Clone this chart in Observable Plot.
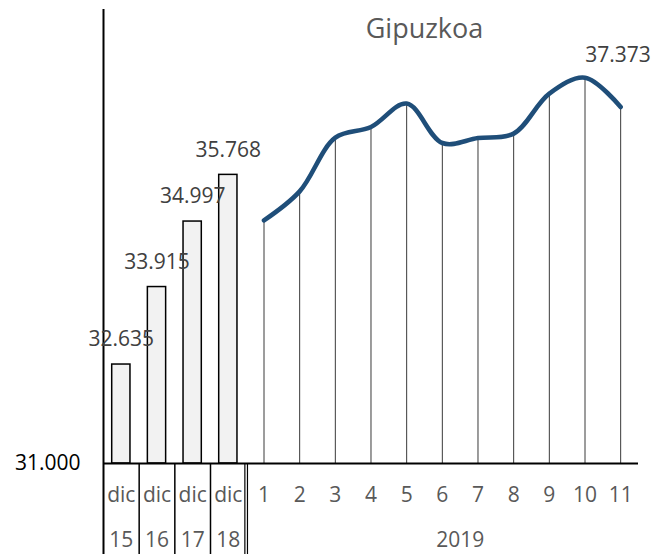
<!DOCTYPE html>
<html>
<head>
<meta charset="utf-8">
<script src="https://cdn.jsdelivr.net/npm/d3@7"></script>
<script src="https://cdn.jsdelivr.net/npm/@observablehq/plot@0.6"></script>
<style>
  html, body { margin: 0; padding: 0; background: #fff; }
</style>
</head>
<body>
<div id="chart"></div>
<script>
// ---- data ----
const title = "Gipuzkoa";
const barKeys = ["dic 15", "dic 16", "dic 17", "dic 18"];
const barValues = [32635, 33915, 34997, 35768];
const barTickTop = ["dic", "dic", "dic", "dic"];
const barTickBottom = ["15", "16", "17", "18"];
const months = ["1", "2", "3", "4", "5", "6", "7", "8", "9", "10", "11"];
const monthValues = [35017, 35496, 36383, 36559, 36946, 36294, 36377, 36450, 37111, 37373, 36889];
const lineLabelMonth = "10";
const yearLabel = "2019";
const yBase = 31000;
const yTop = 38500;

// ---- build ----
const fmt = d3.formatLocale({decimal: ",", thousands: ".", grouping: [3], currency: ["", "€"]}).format(",d");
const bars = barKeys.map((k, i) => ({k, v: barValues[i], t1: barTickTop[i], t2: barTickBottom[i]}));
const line = months.map((k, i) => ({k, v: monthValues[i]}));
const allKeys = barKeys.concat(months);

const W = 664, H = 554;
const mL = 103, mR = 26, mT = 9, mB = 91;
const bw = (W - mL - mR) / allKeys.length;
const pxPerUnit = (H - mT - mB) / (yTop - yBase);
const yBottom = yBase - (mB + 5) / pxPerUnit;

const font = "'Open Sans', 'Noto Sans', sans-serif";
const fs = 21;

const chart = Plot.plot({
  width: W,
  height: H,
  marginLeft: mL,
  marginRight: mR,
  marginTop: mT,
  marginBottom: mB,
  style: {fontFamily: font, background: "#fff"},
  x: {type: "band", domain: allKeys, padding: 0, round: false, axis: null},
  y: {domain: [yBase, yTop], axis: null},
  marks: [
    // separators below the axis between the "dic" categories
    Plot.ruleX(barKeys.slice(1), {x: d => d, dx: -bw / 2, y1: yBottom, y2: yBase, stroke: "#000", strokeWidth: 1.5}),
    // double separator before 2019
    Plot.ruleX(["1"], {x: d => d, dx: -bw / 2 - 1.3, y1: yBottom, y2: yBase, stroke: "#000", strokeWidth: 1.2}),
    Plot.ruleX(["1"], {x: d => d, dx: -bw / 2 + 1.3, y1: yBottom, y2: yBase, stroke: "#000", strokeWidth: 1.2}),
    // drop lines
    Plot.ruleX(line, {x: "k", y1: yBase, y2: "v", stroke: "#3a3a3a", strokeWidth: 1}),
    // bars
    Plot.barY(bars, {x: "k", y1: yBase, y2: "v", fill: "#f2f2f2", stroke: "#000", strokeWidth: 1.5, insetLeft: 8.7, insetRight: 8.7}),
    // line
    Plot.line(line, {x: "k", y: "v", curve: "catmull-rom", stroke: "#1F4E79", strokeWidth: 4.6, strokeLinecap: "round", strokeLinejoin: "round"}),
    // baseline
    Plot.ruleY([yBase], {stroke: "#000", strokeWidth: 2}),
    // y axis line
    Plot.ruleX([barKeys[0]], {x: d => d, dx: -bw / 2, y1: yBottom, y2: yTop, stroke: "#000", strokeWidth: 2}),
    // y tick label
    Plot.text([yBase], {y: d => d, frameAnchor: "left", dx: -23, textAnchor: "end", text: d => fmt(d), fontSize: fs, fill: "#000"}),
    // bar value labels
    Plot.text(bars, {x: "k", y: "v", text: d => fmt(d.v), dy: -25, fontSize: fs, fill: "#404040"}),
    // line label
    Plot.text(line.filter(d => d.k === lineLabelMonth), {x: "k", y: "v", text: d => fmt(d.v), dx: 33, dy: -22, fontSize: fs, fill: "#404040"}),
    // category labels
    Plot.text(bars, {x: "k", text: "t1", frameAnchor: "bottom", lineAnchor: "middle", dy: 32, fontSize: fs, fill: "#595959"}),
    Plot.text(bars, {x: "k", text: "t2", frameAnchor: "bottom", lineAnchor: "middle", dy: 77, fontSize: fs, fill: "#595959"}),
    Plot.text(months, {x: d => d, text: d => d, frameAnchor: "bottom", lineAnchor: "middle", dy: 32, fontSize: fs, fill: "#595959"}),
    Plot.text([yearLabel], {x: () => "6", text: d => d, frameAnchor: "bottom", lineAnchor: "middle", dx: bw / 2, dy: 77, fontSize: fs, fill: "#595959"}),
    // title
    Plot.text([title], {frameAnchor: "top", lineAnchor: "middle", dx: 53.5, dy: 20, text: d => d, fontSize: 27, fill: "#595959"})
  ]
});
document.getElementById("chart").appendChild(chart);
</script>
</body>
</html>
